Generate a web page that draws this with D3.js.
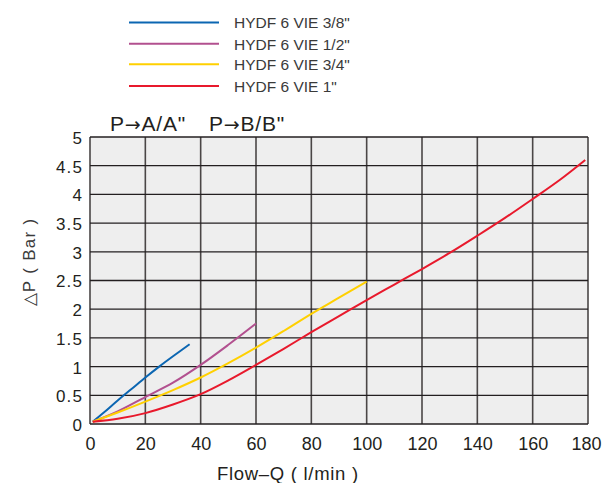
<!DOCTYPE html>
<html><head><meta charset="utf-8">
<script src="https://cdn.jsdelivr.net/npm/d3@7"></script>
<style>body{margin:0;background:#fff}svg{display:block}text{font-family:"Liberation Sans",Arial,sans-serif}</style>
</head><body>
<svg id="c" width="603" height="483"></svg>
<script>
const seriesNames = ['HYDF 6 VIE 3/8"', 'HYDF 6 VIE 1/2"', 'HYDF 6 VIE 3/4"', 'HYDF 6 VIE 1"'];
const seriesColors = ['#0b66b2', '#b2508f', '#ffd000', '#e8192c'];
const flow38 = [1, 5, 10, 15, 20, 25, 30, 36];
const dp38 = [0.04, 0.2, 0.41, 0.61, 0.81, 1.0, 1.18, 1.39];
const flow12 = [1, 10, 20, 30, 40, 50, 60];
const dp12 = [0.04, 0.22, 0.47, 0.72, 1.03, 1.38, 1.75];
const flow34 = [1, 10, 20, 30, 40, 50, 60, 70, 80, 90, 100];
const dp34 = [0.04, 0.2, 0.39, 0.59, 0.81, 1.06, 1.33, 1.62, 1.92, 2.2, 2.48];
const flow1 = [1, 10, 20, 30, 40, 50, 60, 70, 80, 90, 100, 110, 120, 130, 140, 150, 160, 170, 179];
const dp1 = [0.04, 0.09, 0.19, 0.34, 0.52, 0.76, 1.03, 1.31, 1.6, 1.88, 2.16, 2.43, 2.7, 2.98, 3.28, 3.59, 3.92, 4.26, 4.6];
const xTicks = [0, 20, 40, 60, 80, 100, 120, 140, 160, 180];
const yTicks = [0, 0.5, 1, 1.5, 2, 2.5, 3, 3.5, 4, 4.5, 5];
const titleLeft = ['P', '→', 'A/A"'];
const titleRight = ['P', '→', 'B/B"'];
const xTitle = 'Flow–Q ( l/min )';
const yTitle = '△P ( Bar )';

const series = [[flow38, dp38], [flow12, dp12], [flow34, dp34], [flow1, dp1]]
  .map((s, i) => ({name: seriesNames[i], color: seriesColors[i], pts: s[0].map((f, j) => [f, s[1][j]])}));

const svg = d3.select('#c');
const L = 90, R = 588, T = 137, B = 424;
const x = d3.scaleLinear().domain([0, 180]).range([L, R]);
const y = d3.scaleLinear().domain([0, 5]).range([B, T]);

svg.append('rect').attr('x', L).attr('y', T).attr('width', R - L).attr('height', B - T).attr('fill', '#eeeeee');

// grid
svg.append('g').selectAll('line').data(xTicks).join('line')
  .attr('x1', d => x(d)).attr('x2', d => x(d)).attr('y1', T).attr('y2', B)
  .attr('stroke', '#4a4646').attr('stroke-width', 1.6);
svg.append('g').selectAll('line').data(yTicks).join('line')
  .attr('x1', L).attr('x2', R).attr('y1', d => y(d)).attr('y2', d => y(d))
  .attr('stroke', '#231f20').attr('stroke-width', 1.3);

// axes labels
const xAxis = d3.axisBottom(x).tickValues(xTicks).tickSize(0).tickPadding(0).tickFormat(d3.format('d'));
const gx = svg.append('g').attr('transform', `translate(0,${B})`).call(xAxis);
gx.select('.domain').remove();
gx.selectAll('text').attr('font-size', 18).attr('fill', '#231f20').attr('dy', null).attr('y', 26)
  .attr('dx', (d, i, n) => i === n.length - 1 ? -2 : 0)
  .attr('font-family', '"Liberation Sans",Arial,sans-serif');

const yAxis = d3.axisLeft(y).tickValues(yTicks).tickSize(0).tickPadding(0).tickFormat(d3.format('~g'));
const gy = svg.append('g').attr('transform', `translate(${L - 7},0)`).call(yAxis);
gy.select('.domain').remove();
gy.selectAll('text').attr('font-size', 17).attr('fill', '#231f20').attr('dy', '0.38em')
  .attr('letter-spacing', 1.1).attr('font-family', '"Liberation Sans",Arial,sans-serif');

// curves
const line = d3.line().x(d => x(d[0])).y(d => y(d[1])).curve(d3.curveCatmullRom);
svg.append('g').selectAll('path').data(series).join('path')
  .attr('d', d => line(d.pts)).attr('fill', 'none')
  .attr('stroke', d => d.color).attr('stroke-width', 2);

// legend
const legY = [22.5, 43.8, 64.2, 86];
const leg = svg.append('g').selectAll('g').data(series).join('g')
  .attr('transform', (d, i) => `translate(0,${legY[i]})`);
leg.append('line').attr('x1', 129).attr('x2', 219).attr('stroke', d => d.color).attr('stroke-width', 2);
leg.append('text').attr('x', 234).attr('y', 5.8).attr('font-size', 15.5).attr('fill', '#3a3a3a').text(d => d.name);

// titles
function title(parts, x0) {
  const t = svg.append('text').attr('x', x0).attr('y', 131).attr('font-size', 21).attr('fill', '#231f20')
    .attr('letter-spacing', 0.8);
  t.append('tspan').text(parts[0]);
  t.append('tspan').attr('font-family', '"DejaVu Sans",sans-serif').attr('font-size', 19).text(parts[1]);
  t.append('tspan').text(parts[2]);
}
title(titleLeft, 110);
title(titleRight, 209);
svg.append('text').attr('x', 217).attr('y', 480).attr('font-size', 18.5).attr('letter-spacing', 0.7)
  .attr('fill', '#231f20').text(xTitle);
svg.append('text').attr('transform', 'translate(35,262) rotate(-90)').attr('text-anchor', 'middle')
  .attr('font-size', 17).attr('letter-spacing', 1.3).attr('fill', '#3a3a3a').text(yTitle);
</script>
</body></html>
